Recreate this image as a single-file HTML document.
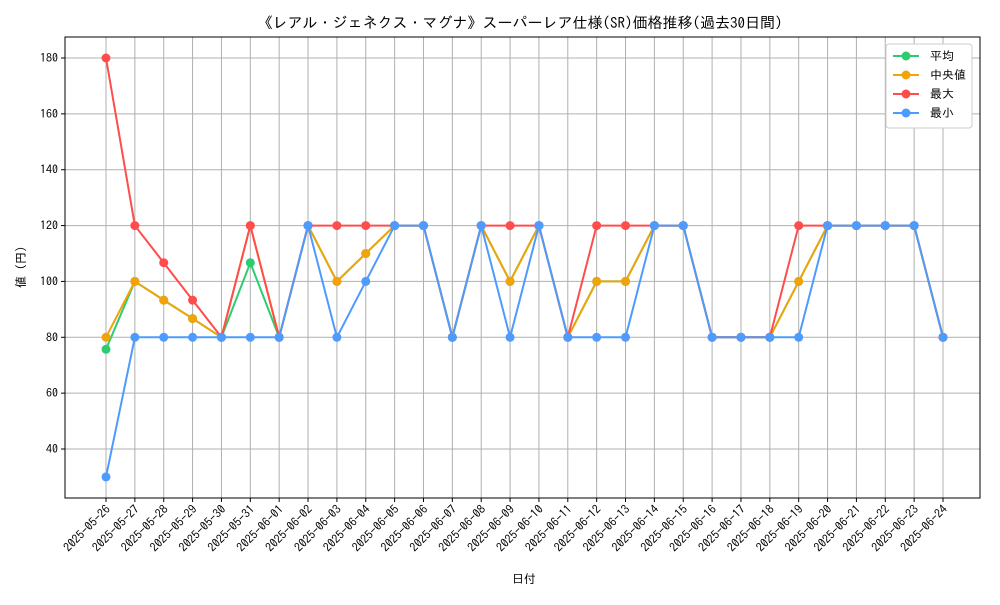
<!DOCTYPE html>
<html><head><meta charset="utf-8"><style>
body{margin:0;background:#fff}
svg text{font-family:"IPAGothic","Noto Sans CJK JP",sans-serif;fill:#000}
</style></head><body>
<svg id="c" width="1000" height="600" viewBox="0 0 1000 600" xmlns="http://www.w3.org/2000/svg">
<rect x="0" y="0" width="1000" height="600" fill="#fff"/>
<text x="520" y="28" font-size="15" text-anchor="middle">《レアル・ジェネクス・マグナ》スーパーレア仕様(SR)価格推移(過去30日間)</text>
<g id="grid"></g><g id="series"></g><g id="axes"></g>
<text x="524" y="583" font-size="12" text-anchor="middle">日付</text>
<text transform="translate(25,267) rotate(-90)" font-size="12" text-anchor="middle">値 (円)</text>
<g id="legend"></g>
</svg>
<script>
const dates=["2025-05-26","2025-05-27","2025-05-28","2025-05-29","2025-05-30","2025-05-31","2025-06-01","2025-06-02","2025-06-03","2025-06-04","2025-06-05","2025-06-06","2025-06-07","2025-06-08","2025-06-09","2025-06-10","2025-06-11","2025-06-12","2025-06-13","2025-06-14","2025-06-15","2025-06-16","2025-06-17","2025-06-18","2025-06-19","2025-06-20","2025-06-21","2025-06-22","2025-06-23","2025-06-24"];
const meanVals=[75.7,100,93.3,86.7,80,106.7,80,120,100,110,120,120,80,120,100,120,80,100,100,120,120,80,80,80,100,120,120,120,120,80];
const medianVals=[80,100,93.3,86.7,80,120,80,120,100,110,120,120,80,120,100,120,80,100,100,120,120,80,80,80,100,120,120,120,120,80];
const maxVals=[180,120,106.7,93.3,80,120,80,120,120,120,120,120,80,120,120,120,80,120,120,120,120,80,80,80,120,120,120,120,120,80];
const minVals=[30,80,80,80,80,80,80,120,80,100,120,120,80,120,80,120,80,80,80,120,120,80,80,80,80,120,120,120,120,80];
const yTicks=[40,60,80,100,120,140,160,180];
const seriesNames=["平均","中央値","最大","最小"];
const NS="http://www.w3.org/2000/svg";
const L=65,R=980,T=37,B=498;
const x=i=>106+i*(943-106)/(dates.length-1);
const y=v=>449-(v-40)*(449-58)/140;
function mk(tag,attrs,parent){const e=document.createElementNS(NS,tag);for(const k in attrs)e.setAttribute(k,attrs[k]);parent.appendChild(e);return e;}
const grid=document.getElementById('grid'),axes=document.getElementById('axes'),ser=document.getElementById('series'),leg=document.getElementById('legend');
dates.forEach((d,i)=>{
 const g=mk('line',{x1:x(i),x2:x(i),y1:T,y2:B,stroke:'#b0b0b0','stroke-width':1},grid);
 
 
 mk('line',{x1:x(i),x2:x(i),y1:B,y2:B+4,stroke:'#000'},axes);
 const t=mk('text',{'font-size':12,'text-anchor':'end',transform:`translate(${x(i)+5},${B+12}) rotate(-45)`},axes);
 t.textContent=d;
 
 
});
yTicks.forEach(v=>{
 const g=mk('line',{x1:L,x2:R,y1:y(v),y2:y(v),stroke:'#b0b0b0','stroke-width':1},grid);
 
 
 mk('line',{x1:L-4,x2:L,y1:y(v),y2:y(v),stroke:'#000'},axes);
 const t=mk('text',{x:L-7,y:y(v)+4,'font-size':12,'text-anchor':'end'},axes);
 t.textContent=v;
 
 
});
const fr=mk('rect',{x:L,y:T,width:R-L,height:B-T,fill:'none',stroke:'#000','stroke-width':1},axes);


const all=[meanVals,medianVals,maxVals,minVals];
const colors=["#2ecc71","#f0a30a","#ff4d4d","#4d9bff"];
const keys=["mean","median","max","min"];
all.forEach((vals,s)=>{
 const g=mk('g',{},ser);
 
 
 const p=mk('polyline',{points:vals.map((v,i)=>x(i)+','+y(v)).join(' '),fill:'none',stroke:colors[s],'stroke-width':2},g);
 
 
 vals.forEach((v,i)=>{
  const c=mk('circle',{cx:x(i),cy:y(v),r:4.5,fill:colors[s]},g);
  
  
 });
});
const lb=mk('rect',{x:886,y:44,width:86,height:84,fill:'#fff',stroke:'#ccc',rx:3},leg);


seriesNames.forEach((n,s)=>{
 const yy=56+s*19;
 const g=mk('g',{},leg);
 
 
 mk('line',{x1:893,x2:919,y1:yy,y2:yy,stroke:colors[s],'stroke-width':2},g);
 mk('circle',{cx:906,cy:yy,r:4.5,fill:colors[s]},g);
 const t=mk('text',{x:930,y:yy+4,'font-size':12},g);
 t.textContent=(s===1?' ':'')+n;
});
</script>
</body></html>
